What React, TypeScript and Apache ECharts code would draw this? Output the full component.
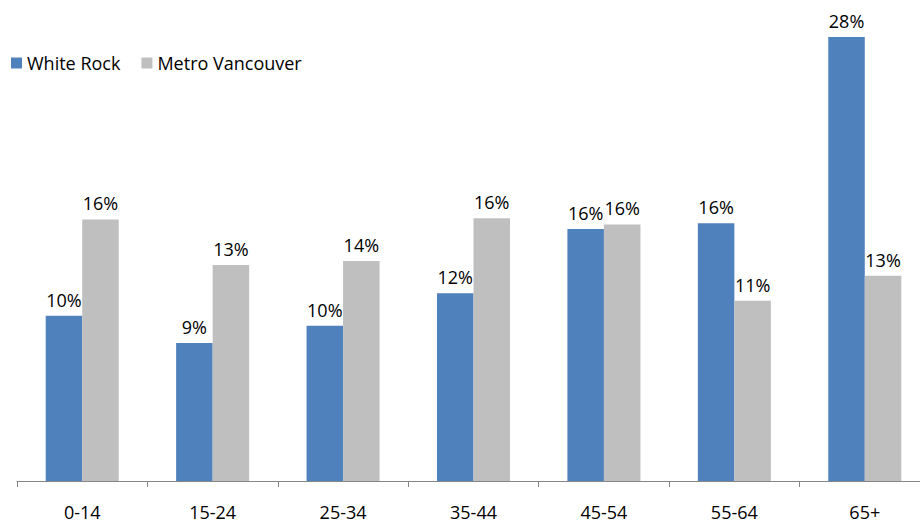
import React, { useEffect, useRef } from "react";
import * as echarts from "echarts";

const categories = ["0-14", "15-24", "25-34", "35-44", "45-54", "55-64", "65+"];
const whiteRock = [10.28, 8.58, 9.66, 11.67, 15.67, 16.03, 27.61];
const metroVancouver = [16.27, 13.43, 13.68, 16.34, 15.96, 11.21, 12.77];
const seriesNames = ["White Rock", "Metro Vancouver"];

const FONT = "'Open Sans', 'Noto Sans', sans-serif";

export default function App() {
  const ref = useRef<HTMLDivElement>(null);
  useEffect(() => {
    if (!ref.current) return;
    const chart = echarts.init(ref.current, null, { renderer: "svg" });
    const label = {
      show: true,
      position: "top",
      distance: 7,
      color: "#000",
      fontFamily: FONT,
      fontSize: 18,
      formatter: (p: any) => Math.round(p.value) + "%",
    };
    chart.setOption({
      animation: false,
      textStyle: { fontFamily: FONT },
      legend: {
        left: 11,
        top: 54,
        padding: 0,
        itemWidth: 11,
        itemHeight: 11,
        itemGap: 21,
        icon: "rect",
        textStyle: { fontFamily: FONT, fontSize: 18, color: "#000" },
        data: seriesNames,
      },
      grid: { left: 17, right: 0, top: 30.8, bottom: 42, containLabel: false },
      xAxis: {
        type: "category",
        data: categories,
        axisLine: { lineStyle: { color: "#868686", width: 1 } },
        axisTick: { show: true, length: 6, lineStyle: { color: "#868686" } },
        axisLabel: { color: "#000", fontFamily: FONT, fontSize: 18, margin: 22 },
      },
      yAxis: {
        type: "value",
        min: 0,
        max: 28,
        show: false,
        splitLine: { show: false },
      },
      series: [
        {
          name: seriesNames[0],
          type: "bar",
          data: whiteRock,
          itemStyle: { color: "#4F81BD" },
          barGap: "0%",
          barCategoryGap: "44%",
          label,
        },
        {
          name: seriesNames[1],
          type: "bar",
          data: metroVancouver,
          itemStyle: { color: "#BFBFBF" },
          barGap: "0%",
          barCategoryGap: "44%",
          label,
        },
      ],
    });
    return () => chart.dispose();
  }, []);
  return (
    <div
      style={{ position: "absolute", left: 0, top: 0, width: 920, height: 523, overflow: "hidden", background: "#fff" }}
    >
      <div ref={ref} style={{ width: 930, height: 523 }} />
    </div>
  );
}
